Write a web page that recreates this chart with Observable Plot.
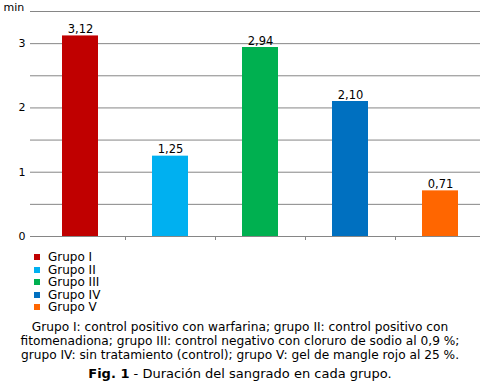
<!DOCTYPE html>
<html>
<head>
<meta charset="utf-8">
<script src="https://cdn.jsdelivr.net/npm/d3@7"></script>
<script src="https://cdn.jsdelivr.net/npm/@observablehq/plot@0.6"></script>
<style>
  html, body { margin: 0; padding: 0; background: #fff; }
  body { width: 480px; height: 388px; position: relative; overflow: hidden; font-family: "DejaVu Sans", Verdana, sans-serif; color: #000; }
  #chart { position: absolute; left: 0; top: 0; }
  #legend { position: absolute; left: 34px; top: 251px; font-size: 12px; line-height: 12.5px; }
  #legend .item { display: flex; align-items: center; white-space: nowrap; height: 12.5px; }
  #legend .sw { width: 6px; height: 6px; display: inline-block; margin-right: 8px; }
  #caption { position: absolute; left: 0; width: 480px; top: 320px; text-align: center; font-size: 12.2px; line-height: 14px; white-space: nowrap; }
  #fig { position: absolute; left: 0; width: 480px; top: 366px; text-align: center; font-size: 13px; line-height: 16px; white-space: nowrap; }
</style>
</head>
<body>
<div id="chart"></div>
<div id="legend"></div>
<div id="caption"></div>
<div id="fig"></div>
<script>
const grupos = ["Grupo I", "Grupo II", "Grupo III", "Grupo IV", "Grupo V"];
const valores = [3.12, 1.25, 2.94, 2.10, 0.71];
const colores = ["#C00000", "#00B0F0", "#00B050", "#0070C0", "#FF6600"];
const yTicks = [0, 1, 2, 3];
const yGrid = [0, 0.5, 1, 1.5, 2, 2.5, 3, 3.5];
const yLabel = "min";
const captionLines = [
  "Grupo I: control positivo con warfarina; grupo II: control positivo con",
  "fitomenadiona; grupo III: control negativo con cloruro de sodio al 0,9 %;",
  "grupo IV: sin tratamiento (control); grupo V: gel de mangle rojo al 25 %."
];
const figLabel = "Fig. 1";
const figTitle = " - Duración del sangrado en cada grupo.";

const data = grupos.map((g, i) => ({grupo: g, valor: valores[i], color: colores[i]}));
const fmt = d3.formatLocale({decimal: ",", thousands: ".", grouping: [3], currency: ["", ""]}).format(".2f");

const chart = Plot.plot({
  width: 480,
  height: 245,
  marginLeft: 30,
  marginRight: 0,
  marginTop: 11,
  marginBottom: 9,
  style: {fontFamily: "DejaVu Sans, Verdana, sans-serif", fontSize: "11px", color: "#000", background: "#fff", overflow: "visible"},
  x: {domain: grupos, range: [34, 486], paddingInner: 0.6, paddingOuter: 0.3, axis: null},
  y: {domain: [0, 3.5], axis: null},
  marks: [
    Plot.ruleY(yGrid, {stroke: "#868686", strokeWidth: 1}),
    Plot.ruleX(grupos.slice(0, 4), {x: d => d, y1: 0, y2: 0, insetBottom: -4, dx: 45, stroke: "#868686"}),
    Plot.axisY(yTicks, {tickSize: 0, tickPadding: 5, label: null, tickFormat: d => String(d), fontSize: 11, fill: "#000"}),
    Plot.barY(data, {x: "grupo", y: "valor", fill: "color"}),
    Plot.text(data, {x: "grupo", y: "valor", text: d => fmt(d.valor), lineAnchor: "bottom", dy: -3, fill: "#000", fontSize: 11.5}),
    Plot.text([yLabel], {frameAnchor: "top-left", text: d => d, dx: -27, dy: -4, lineAnchor: "middle", textAnchor: "start", fill: "#000", fontSize: 11})
  ]
});
document.getElementById("chart").appendChild(chart);

const legend = document.getElementById("legend");
data.forEach(d => {
  const item = document.createElement("div");
  item.className = "item";
  const sw = document.createElement("span");
  sw.className = "sw";
  sw.style.background = d.color;
  item.appendChild(sw);
  item.appendChild(document.createTextNode(d.grupo));
  legend.appendChild(item);
});

document.getElementById("caption").innerHTML = captionLines.join("<br>");
const fig = document.getElementById("fig");
const b = document.createElement("b");
b.textContent = figLabel;
fig.appendChild(b);
fig.appendChild(document.createTextNode(figTitle));
</script>
</body>
</html>
